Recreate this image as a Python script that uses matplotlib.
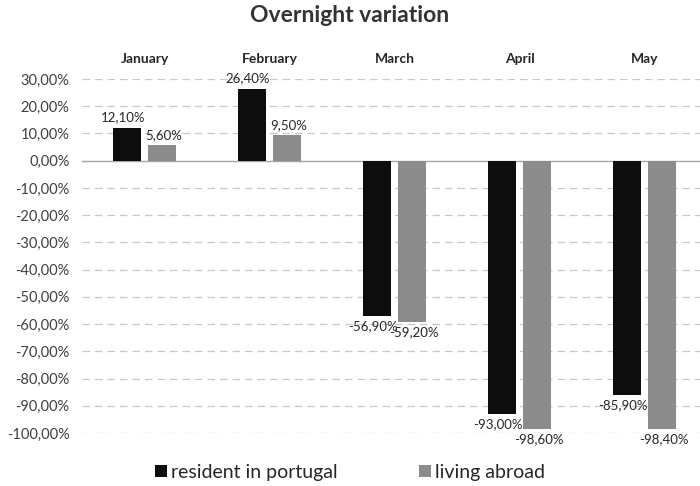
import matplotlib.pyplot as plt
import numpy as np
from matplotlib.ticker import FuncFormatter

months = ["January", "February", "March", "April", "May"]
resident = [12.1, 26.4, -56.9, -93.0, -85.9]
abroad = [5.6, 9.5, -59.2, -98.6, -98.4]
yticks = list(range(30, -101, -10))

plt.rcParams['font.family'] = ['Lato', 'DejaVu Sans']

def pct(v):
    return f"{v:.2f}%".replace(".", ",")

fig = plt.figure(figsize=(7, 4.86), dpi=100)
ax = fig.add_axes([82 / 700, 1 - 433 / 486, 618 / 700, (433 - 79) / 486])

x = np.arange(len(months))
w = 0.225
off = 0.14
b1 = ax.bar(x - off, resident, w, color="#0d0d0d", label="resident in portugal", zorder=3)
b2 = ax.bar(x + off, abroad, w, color="#8c8c8c", label="living abroad", zorder=3)

# value labels sit above positive bars and below negative ones
for bars, vals, dx in ((b1, resident, -3), (b2, abroad, 1)):
    for bar, v in zip(bars, vals):
        cx = bar.get_x() + bar.get_width() / 2
        dy, va = (3, "bottom") if v >= 0 else (-3, "top")
        ax.annotate(pct(v), (cx, v), xytext=(dx, dy),
                    textcoords="offset points", ha="center", va=va,
                    fontsize=9.5, color="#262626", clip_on=False)

ax.set_xlim(-0.5, 4.5 - 7 / 125)
ax.set_ylim(-100, 30)
ax.set_yticks(yticks)
ax.yaxis.set_major_formatter(FuncFormatter(lambda v, p: pct(v)))
ax.tick_params(axis="y", length=0, labelsize=10.5, labelcolor="#404040", pad=9)

ax.set_xticks(x)
ax.set_xticklabels(months, fontsize=10, fontweight="bold", color="#262626")
ax.xaxis.tick_top()
ax.tick_params(axis="x", length=0, pad=10)

for t in yticks:
    if t != 0:
        ax.axhline(t, color="#c8c8c8", lw=0.9, ls=(0, (6, 4)), zorder=1)
ax.axhline(0, color="#a6a6a6", lw=1, zorder=2)

for s in ax.spines.values():
    s.set_visible(False)

fig.suptitle("Overnight variation", x=0.5, y=0.99, fontsize=16.5, fontweight="bold", color="#333333")

fig.legend(handles=[b1, b2], loc="lower center", bbox_to_anchor=(0.5, -0.025), ncol=2,
           frameon=False, fontsize=14, handlelength=0.6, handleheight=0.6,
           handletextpad=0.2, columnspacing=4.2, labelcolor="#262626")

fig.savefig("out.png", dpi=100)
